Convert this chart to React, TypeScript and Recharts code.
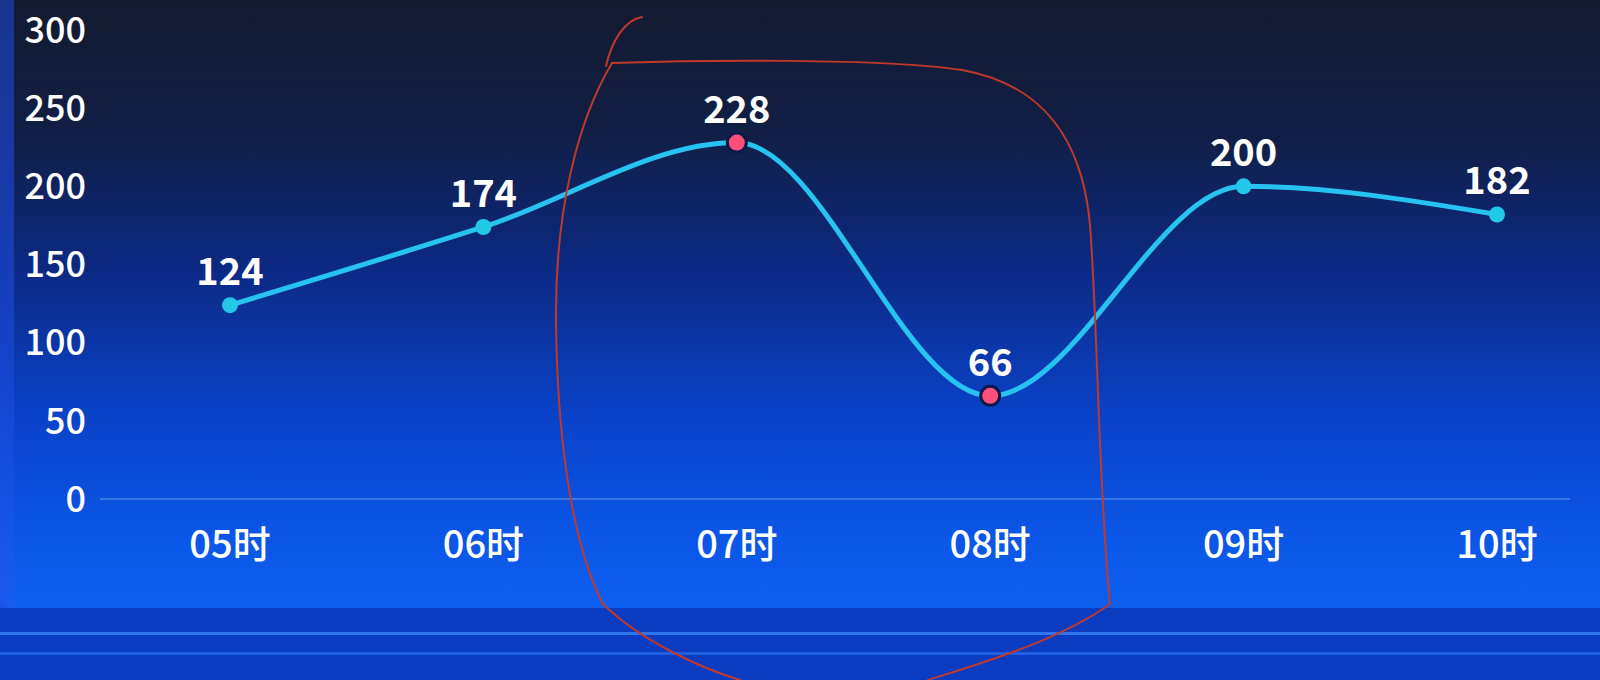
import { LineChart, Line, XAxis, YAxis, LabelList } from "recharts";

const hours = ["05时", "06时", "07时", "08时", "09时", "10时"];
const counts = [124, 174, 228, 66, 200, 182];
const yTicks = [0, 50, 100, 150, 200, 250, 300];

const data = hours.map((hour, i) => ({ hour, count: counts[i] }));
const maxVal = Math.max(...counts);
const minVal = Math.min(...counts);

const font = "'Noto Sans CJK SC', 'DejaVu Sans', sans-serif";

const HourDot = (props: any) => {
  const { cx, cy, value, index } = props;
  const hot = value === maxVal || value === minVal;
  if (hot) {
    return (
      <g key={`dot-${index}`}>
        <circle cx={cx} cy={cy} r={11} fill="#0b1a4a" />
        <circle cx={cx} cy={cy} r={8} fill="#ff4f7a" />
      </g>
    );
  }
  return <circle key={`dot-${index}`} cx={cx} cy={cy} r={8} fill="#22c8e8" />;
};

const App = () => (
  <div
    style={{
      position: "fixed",
      left: 0,
      top: 0,
      width: 1600,
      height: 680,
      overflow: "hidden",
      background: "#0a3cc2",
      fontFamily: font,
    }}
  >
    {/* main panel */}
    <div
      style={{
        position: "absolute",
        left: 0,
        top: 0,
        width: 1600,
        height: 608,
        borderBottomLeftRadius: 14,
        background:
          "linear-gradient(180deg, #141b30 0%, #111e45 22%, #0c2a86 45%, #0a42c8 68%, #0b56e6 88%, #0d5ff0 100%)",
      }}
    />
    <div
      style={{
        position: "absolute",
        left: 0,
        top: 0,
        width: 14,
        height: 608,
        background: "linear-gradient(180deg, #1b3aa8 0%, #1846d0 60%, #1a5af0 100%)",
        opacity: 0.8,
      }}
    />
    {/* bottom band lines */}
    <div style={{ position: "absolute", left: 0, top: 632, width: 1600, height: 3, background: "#3e8cff", opacity: 0.7 }} />
    <div style={{ position: "absolute", left: 0, top: 652, width: 1600, height: 3, background: "#2a78f5", opacity: 0.6 }} />

    <div style={{ position: "absolute", left: 0, top: 0 }}>
      <LineChart width={1600} height={600} data={data} margin={{ top: 30, right: 30, bottom: 21, left: 0 }}>
        <XAxis
          dataKey="hour"
          padding={{ left: 130, right: 73 }}
          height={80}
          axisLine={{ stroke: "rgba(150,190,255,0.35)", strokeWidth: 2 }}
          tickLine={false}
          tickMargin={26}
          tick={{ fill: "#ffffff", fontSize: 38, fontFamily: font, fontWeight: 500 }}
        />
        <YAxis
          domain={[0, 300]}
          ticks={yTicks}
          width={100}
          axisLine={false}
          tickLine={false}
          tickMargin={8}
          tick={{ fill: "#ffffff", fontSize: 36, fontFamily: font, fontWeight: 500 }}
        />
        <Line
          type="monotone"
          dataKey="count"
          stroke="#27c3f0"
          strokeWidth={5}
          dot={<HourDot />}
          activeDot={false}
          isAnimationActive={false}
        >
          <LabelList
            dataKey="count"
            position="top"
            offset={20}
            fill="#ffffff"
            fontSize={38}
            fontWeight={700}
            fontFamily={font}
          />
        </Line>
      </LineChart>
    </div>

    {/* hand-drawn red annotation on the photo */}
    <svg width={1600} height={680} style={{ position: "absolute", left: 0, top: 0, pointerEvents: "none" }}>
      <g fill="none" stroke="#c0392b" strokeWidth={2} strokeLinecap="round">
        <path d="M 642 17 C 625 20, 612 40, 606 66" />
        <path d="M 612 63 C 700 60, 880 58, 962 70 C 1040 84, 1082 135, 1090 225 C 1098 330, 1098 480, 1110 604 C 1060 640, 985 662, 928 680" />
        <path d="M 612 63 C 578 120, 555 210, 556 320 C 557 430, 570 540, 603 604 C 640 640, 700 668, 740 680" />
      </g>
    </svg>
  </div>
);

export default App;
